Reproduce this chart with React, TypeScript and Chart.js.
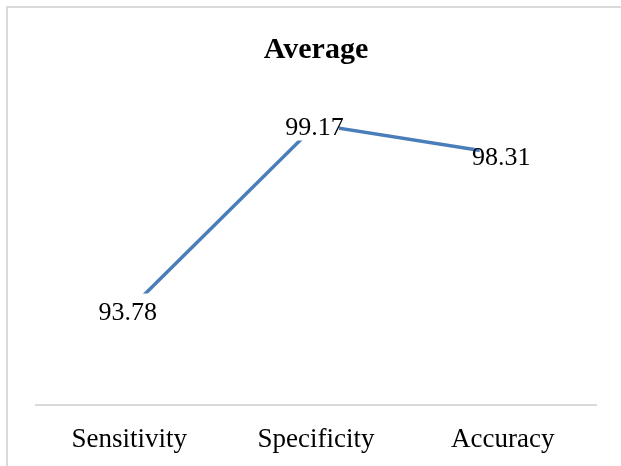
import { useEffect, useRef } from "react";
import { Chart, registerables } from "chart.js";

Chart.register(...registerables);

// Chart content
const titleText = "Average";
const categories = ["Sensitivity", "Specificity", "Accuracy"];
const averages = [93.78, 99.17, 98.31];
const yRange = [91, 100];

const SERIF = '"Liberation Serif", "Times New Roman", serif';
const LINE_BLUE = "#4a7ebb";
const FRAME_GREY = "#d9d9d9";

// Light frame along the top and left edges of the canvas
const framePlugin = {
  id: "frame",
  beforeDraw(chart: any) {
    const { ctx, width, height } = chart;
    ctx.save();
    ctx.fillStyle = "#ffffff";
    ctx.fillRect(0, 0, width, height);
    ctx.fillStyle = FRAME_GREY;
    ctx.fillRect(6, 6, width - 6, 2);
    ctx.fillRect(6, 6, 2, height - 6);
    ctx.restore();
  },
};

// Value labels centred on each point, on a white box that masks the line
const valueLabelPlugin = {
  id: "valueLabels",
  afterDatasetsDraw(chart: any) {
    const { ctx } = chart;
    const meta = chart.getDatasetMeta(0);
    const values = chart.data.datasets[0].data as number[];
    ctx.save();
    ctx.font = `26px ${SERIF}`;
    ctx.textAlign = "center";
    ctx.textBaseline = "middle";
    meta.data.forEach((pt: any, i: number) => {
      const { x, y } = pt.getProps(["x", "y"], true);
      ctx.fillStyle = "#ffffff";
      ctx.fillRect(x - 23, y - 16, 46, 32);
      ctx.fillStyle = "#000000";
      ctx.fillText(values[i].toFixed(2), x - 1.5, y + 4);
    });
    ctx.restore();
  },
};

export default function App() {
  const canvasRef = useRef<HTMLCanvasElement | null>(null);

  useEffect(() => {
    const canvas = canvasRef.current;
    if (!canvas) return;
    const chart = new Chart(canvas, {
      type: "line",
      data: {
        labels: categories,
        datasets: [
          {
            label: titleText,
            data: averages,
            borderColor: LINE_BLUE,
            borderWidth: 3.5,
            pointRadius: 0,
            pointHoverRadius: 0,
            tension: 0,
            fill: false,
          },
        ],
      },
      options: {
        animation: false,
        responsive: false,
        devicePixelRatio: 1,
        events: [],
        layout: { padding: { left: 36, right: 25, top: 0, bottom: 0 } },
        plugins: {
          legend: { display: false },
          tooltip: { enabled: false },
          title: {
            display: true,
            text: titleText,
            color: "#000000",
            font: { family: SERIF, size: 30, weight: "bold" },
            padding: { top: 32, bottom: 28 },
          },
        },
        scales: {
          x: {
            offset: true,
            grid: { display: false, drawTicks: false },
            border: { display: true, color: FRAME_GREY, width: 2 },
            ticks: {
              color: "#000000",
              font: { family: SERIF, size: 27 },
              padding: 19,
              maxRotation: 0,
            },
            afterFit(scale: any) {
              scale.height = 61;
            },
          },
          y: {
            display: false,
            min: yRange[0],
            max: yRange[1],
          },
        },
      },
      plugins: [framePlugin, valueLabelPlugin],
    });
    return () => chart.destroy();
  }, []);

  return (
    <div style={{ position: "fixed", left: 0, top: 0, width: 621, height: 466, overflow: "hidden", background: "#ffffff" }}>
      <canvas ref={canvasRef} width={621} height={466} style={{ display: "block", width: 621, height: 466 }} />
    </div>
  );
}
